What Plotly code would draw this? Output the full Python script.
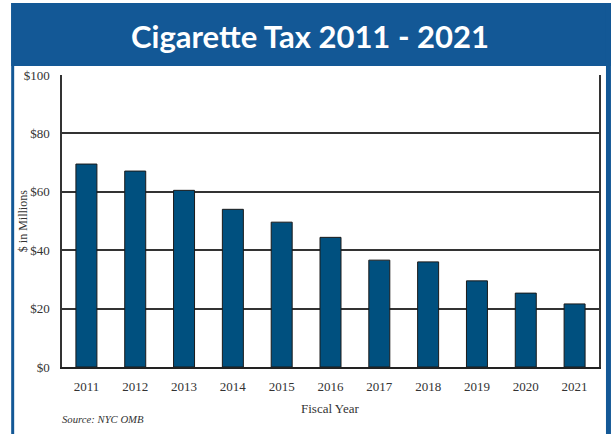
import plotly.graph_objects as go

years = ["2011", "2012", "2013", "2014", "2015", "2016", "2017", "2018", "2019", "2020", "2021"]
tax_millions = [69.5, 67.1, 60.5, 54.0, 49.6, 44.4, 36.6, 36.0, 29.5, 25.3, 21.6]
y_ticks = [0, 20, 40, 60, 80, 100]
y_tick_labels = ["$0", "$20", "$40", "$60", "$80", "$100"]

W, H = 613, 434
L, R, T, B = 62, 12, 75, 67
PW = W - L - R
PH = H - T - B

def px(x):
    return (x - L) / PW

def py(y):
    return (H - B - y) / PH

BLUE = "#135896"
BAR = "#00507F"

fig = go.Figure()
fig.add_trace(go.Bar(
    x=years, y=tax_millions,
    marker=dict(color=BAR, line=dict(color="#1a1a1a", width=1)),
    width=0.43,
))

shapes = [
    dict(type="rect", xref="paper", yref="paper", x0=px(11), x1=px(613), y0=py(66), y1=py(3),
         fillcolor=BLUE, line=dict(width=0), layer="below"),
    dict(type="rect", xref="paper", yref="paper", x0=px(11), x1=px(14), y0=py(434), y1=py(3),
         fillcolor=BLUE, line=dict(width=0), layer="below"),
    dict(type="rect", xref="paper", yref="paper", x0=px(608), x1=px(613), y0=py(434), y1=py(3),
         fillcolor=BLUE, line=dict(width=0), layer="below"),
]

annotations = [
    dict(text="<b>Cigarette Tax 2011 - 2021</b>", xref="paper", yref="paper",
         x=px(311), y=py(36), showarrow=False, xanchor="center", yanchor="middle",
         font=dict(family="Lato", size=31, color="white")),
    dict(text="$ in Millions", xref="paper", yref="paper", x=px(23), y=py(221),
         showarrow=False, textangle=-90, xanchor="center", yanchor="middle",
         font=dict(family="Liberation Serif", size=12, color="#333")),
    dict(text="Fiscal Year", xref="paper", yref="paper", x=px(331), y=py(408),
         showarrow=False, xanchor="center", yanchor="middle",
         font=dict(family="Liberation Serif", size=13, color="#333")),
    dict(text="<i>Source: NYC OMB</i>", xref="paper", yref="paper", x=px(60), y=py(419),
         showarrow=False, xanchor="left", yanchor="middle",
         font=dict(family="Liberation Serif", size=10.7, color="#333")),
]

fig.update_layout(
    width=W, height=H,
    margin=dict(l=L, r=R, t=T, b=B, pad=0),
    paper_bgcolor="white", plot_bgcolor="white",
    showlegend=False,
    shapes=shapes, annotations=annotations,
    font=dict(family="Liberation Serif", color="#333"),
)
fig.update_xaxes(
    type="category", showgrid=False, showline=True, linecolor="#222", linewidth=2,
    mirror=False, ticks="", tickfont=dict(family="Liberation Serif", size=13, color="#333"),
    ticklabelstandoff=6,
)
fig.update_yaxes(
    range=[0, 100], tickvals=y_ticks, ticktext=y_tick_labels,
    showgrid=True, gridcolor="#333", gridwidth=1.5,
    showline=True, linecolor="#333", linewidth=1.5, mirror=True,
    zeroline=False, ticks="",
    tickfont=dict(family="Liberation Serif", size=13, color="#333"),
    ticklabelstandoff=8,
)

fig.write_html("out.html", config={"displayModeBar": False},
               post_script="document.body.style.margin='0';")
